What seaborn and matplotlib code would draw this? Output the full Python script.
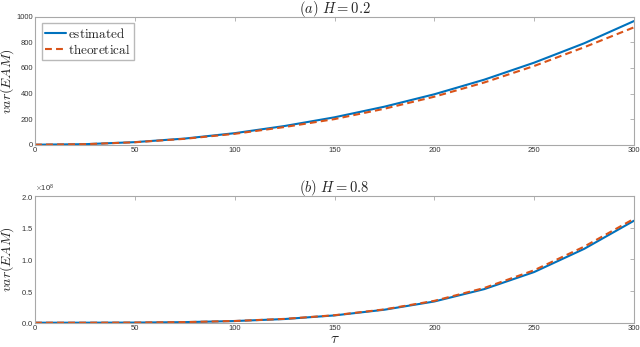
import numpy as np
import pandas as pd
import matplotlib
matplotlib.use("Agg")
import matplotlib.pyplot as plt
import seaborn as sns

# values
tau = [0, 25, 50, 75, 100, 125, 150, 175, 200, 225, 250, 275, 300]
est_a = [0, 4, 20, 48, 90, 146, 214, 297, 394, 508, 641, 792, 966]
theo_a = [0, 4, 19, 46, 85, 138, 200, 281, 375, 486, 615, 761, 917]
# panel (b) in units of 1e8
est_b = [0, 0.0002, 0.002, 0.009, 0.026, 0.058, 0.115, 0.205, 0.335, 0.53, 0.8, 1.165, 1.61]
theo_b = [0, 0.0002, 0.002, 0.0095, 0.027, 0.06, 0.118, 0.21, 0.345, 0.548, 0.828, 1.2, 1.64]
scale_b = 1e8

titles = [r'$(a)\ H=0.2$', r'$(b)\ H=0.8$']
blue = '#0072BD'
orange = '#D95319'
edge = '#a8a8a8'

sns.set_style('white')
plt.rcParams['mathtext.fontset'] = 'cm'
plt.rcParams['font.family'] = ['Liberation Sans', 'DejaVu Sans']

fig = plt.figure(figsize=(6.4, 3.47), dpi=100)
ax1 = fig.add_axes([35 / 640, 1 - 144.7 / 347, 599 / 640, 128 / 347])
ax2 = fig.add_axes([35 / 640, 1 - 322.7 / 347, 599 / 640, 126.7 / 347])

df_a = pd.DataFrame({'tau': tau, 'est': est_a, 'theo': theo_a})
df_b = pd.DataFrame({'tau': tau, 'est': np.array(est_b) * scale_b,
                     'theo': np.array(theo_b) * scale_b})

for ax, df, title in [(ax1, df_a, titles[0]), (ax2, df_b, titles[1])]:
    sns.lineplot(data=df, x='tau', y='est', ax=ax, color=blue, lw=1.5,
                 label=r'$\mathrm{estimated}$')
    sns.lineplot(data=df, x='tau', y='theo', ax=ax, color=orange, lw=1.5,
                 linestyle=(0, (3.3, 2)), label=r'$\mathrm{theoretical}$')
    ax.set_xlim(0, 300)
    ax.set_xticks([0, 50, 100, 150, 200, 250, 300])
    ax.set_title(title, fontsize=10.5, pad=3)
    ax.set_ylabel(r'$var(EAM)$', fontsize=10)
    ax.yaxis.set_label_coords(-0.031, 0.5)
    ax.set_xlabel('')
    ax.tick_params(direction='in', length=3, width=0.6, colors=edge,
                   labelcolor='#333333', labelsize=5.5, top=True, right=True,
                   pad=1.5)
    for s in ax.spines.values():
        s.set_color(edge)
        s.set_linewidth(0.8)

ax1.set_ylim(0, 1000)
ax1.set_yticks([0, 200, 400, 600, 800, 1000])
ax1.legend(loc='upper left', fontsize=9.5, frameon=True, fancybox=False,
           edgecolor=edge, handlelength=1.6, handletextpad=0.15,
           borderpad=0.25, labelspacing=0.15, borderaxespad=0.5)

ax2.set_ylim(0, 2e8)
ax2.set_yticks([0, 0.5e8, 1e8, 1.5e8, 2e8])
ax2.ticklabel_format(axis='y', style='sci', scilimits=(0, 0), useMathText=True)
ax2.yaxis.get_offset_text().set_fontsize(5.5)
ax2.yaxis.get_offset_text().set_color('#333333')
ax2.get_legend().remove()
ax2.set_xlabel(r'$\tau$', fontsize=11, labelpad=0)

fig.savefig('out.png', dpi=100)
